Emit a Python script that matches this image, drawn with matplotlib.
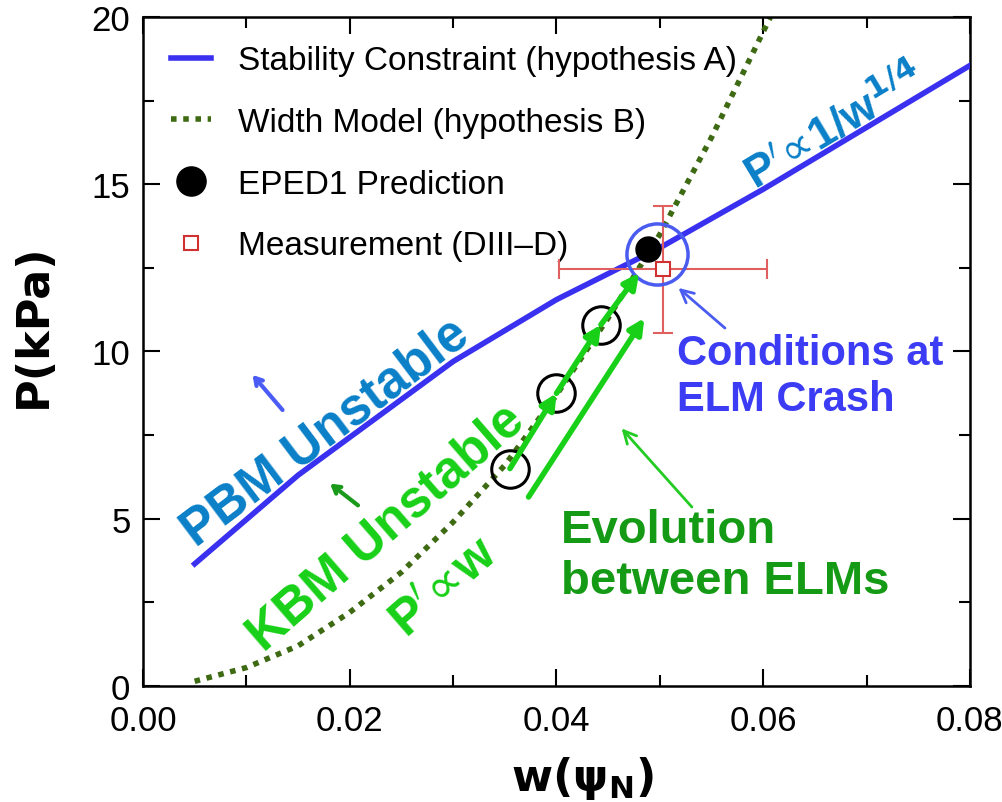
import numpy as np
import matplotlib
matplotlib.use("Agg")
import matplotlib.pyplot as plt
from matplotlib.lines import Line2D
from matplotlib.ticker import MultipleLocator

# =====================================================
# DATA
# =====================================================

# stability constraint (hypothesis A)
w_stab = [0.005, 0.015, 0.030, 0.040, 0.050, 0.060, 0.070, 0.080]
p_stab = [3.65, 6.3, 9.7, 11.55, 13.1, 14.85, 16.7, 18.55]

# width model (hypothesis B)
w_width = [0.005, 0.010, 0.015, 0.020, 0.025, 0.030, 0.035, 0.040,
           0.045, 0.050, 0.055, 0.0607]
p_width = [0.14, 0.55, 1.2, 2.2, 3.4, 4.9, 6.6, 8.7, 11.0, 13.5, 16.4, 20.0]

# EPED1 prediction
w_eped, p_eped = 0.0489, 13.05

# measurement (DIII-D) with error bars
w_meas, p_meas = 0.0503, 12.46
w_err, p_err = 0.0101, 1.9

# evolution between ELMs (open circles)
w_evol = [0.0355, 0.0400, 0.0443]
p_evol = [6.5, 8.75, 10.8]

labels = ["Stability Constraint (hypothesis A)", "Width Model (hypothesis B)",
          "EPED1 Prediction", "Measurement (DIII\u2013D)"]

# =====================================================
# STYLE
# =====================================================

sans = ["Liberation Sans", "DejaVu Sans"]
blue_line = "#3a30f0"
green_dot = "#3d6a12"
bright_green = "#18d018"
dark_green = "#149a14"
pbm_blue = "#0a80c8"
cond_blue = "#3c3cf5"
meas_red = "#d03030"

fig = plt.figure(figsize=(10.02, 8.03), dpi=100)
ax = fig.add_axes([0.1427, 0.1445, 0.8253, 0.8331])

# =====================================================
# CURVES
# =====================================================

ax.plot(w_stab, p_stab, color=blue_line, lw=4, zorder=3)
ax.plot(w_width, p_width, color=green_dot, lw=4, ls=(0, (1, 1.2)), zorder=2)
ax.plot(w_eped, p_eped, "o", color="black", ms=18, zorder=5)
ax.errorbar(w_meas, p_meas, xerr=w_err, yerr=p_err, fmt="s", mfc="white",
            mec=meas_red, ecolor="#e06060", ms=10, mew=1.5, elinewidth=1.5,
            capsize=7, capthick=1.5, zorder=6)

ax.plot(w_evol, p_evol, "o", mfc="none", mec="black", ms=27, mew=2.2, zorder=4)

# big blue circle around ELM crash point
ax.plot(0.0497, 12.9, "o", mfc="none", mec="#4a5cf0", ms=44, mew=2.5, zorder=7)

# =====================================================
# ARROWS
# =====================================================

arr = dict(arrowstyle="-|>,head_length=0.9,head_width=0.45", color=bright_green,
           lw=4, shrinkA=0, shrinkB=0)
pts = list(zip(w_evol, p_evol)) + [(0.0480, 12.35)]
for (x0, y0), (x1, y1) in zip(pts[:-1], pts[1:]):
    ax.annotate("", xy=(x1, y1), xytext=(x0, y0), arrowprops=arr, zorder=8)
ax.annotate("", xy=(0.0485, 11.0), xytext=(0.0373, 5.65), arrowprops=arr, zorder=8)

ax.annotate("", xy=(0.0463, 7.7), xytext=(0.0531, 5.35),
            arrowprops=dict(arrowstyle="->,head_length=0.9,head_width=0.45",
                            color="#22cc22", lw=2, shrinkA=0, shrinkB=0))
ax.annotate("", xy=(0.0518, 11.9), xytext=(0.0563, 10.7),
            arrowprops=dict(arrowstyle="->,head_length=0.9,head_width=0.45",
                            color="#4a5cf0", lw=2, shrinkA=0, shrinkB=0))
ax.annotate("", xy=(0.0106, 9.3), xytext=(0.0135, 8.25),
            arrowprops=dict(arrowstyle="->,head_length=0.5,head_width=0.3",
                            color="#4a5cf5", lw=3, shrinkA=0, shrinkB=0))
ax.annotate("", xy=(0.0181, 6.05), xytext=(0.0208, 5.4),
            arrowprops=dict(arrowstyle="->,head_length=0.5,head_width=0.3",
                            color="#1a9a1a", lw=3, shrinkA=0, shrinkB=0))

# =====================================================
# TEXT
# =====================================================

ax.text(0.0177, 7.6, "PBM Unstable", color=pbm_blue, fontsize=37,
        fontweight="bold", family=sans, rotation=37,
        ha="center", va="center", rotation_mode="anchor")
ax.text(0.0235, 4.75, "KBM Unstable", color=bright_green, fontsize=37,
        fontweight="bold", family=sans, rotation=41,
        ha="center", va="center", rotation_mode="anchor")
ax.text(0.0292, 2.95, r"P$^{\prime}\!\propto\!$w", color=bright_green, fontsize=36,
        fontweight="bold", family=sans, rotation=41,
        ha="center", va="center", rotation_mode="anchor")
ax.text(0.0670, 16.75, r"P$^{\prime}\!\propto\!$1/w$^{\mathbf{1/4}}$", color=pbm_blue,
        fontsize=32, fontweight="bold", family=sans, rotation=31,
        ha="center", va="center", rotation_mode="anchor")
ax.text(0.0517, 9.26, "Conditions at\nELM Crash", color=cond_blue, fontsize=30,
        fontweight="bold", family=sans, ha="left", va="center",
        linespacing=1.2)
ax.text(0.0404, 3.9, "Evolution\nbetween ELMs", color=dark_green, fontsize=34,
        fontweight="bold", family=sans, ha="left", va="center",
        linespacing=1.2)

# =====================================================
# AXES
# =====================================================

ax.set_xlim(0, 0.08)
ax.set_ylim(0, 20)
ax.xaxis.set_major_locator(MultipleLocator(0.02))
ax.xaxis.set_minor_locator(MultipleLocator(0.01))
ax.yaxis.set_major_locator(MultipleLocator(5))
ax.yaxis.set_minor_locator(MultipleLocator(2.5))
ax.xaxis.set_major_formatter(plt.FuncFormatter(lambda v, p: f"{v:.2f}"))
ax.tick_params(which="both", direction="in", top=True, right=True, width=1.5)
ax.tick_params(which="major", length=12, labelsize=25)
ax.tick_params(axis="x", which="major", pad=13)
ax.tick_params(axis="y", which="major", pad=9)
ax.tick_params(which="minor", length=8)
for lab in ax.get_xticklabels() + ax.get_yticklabels():
    lab.set_family(sans)
for s in ax.spines.values():
    s.set_linewidth(1.8)

fig.text(0.033, 0.594, "P(kPa)", rotation=90, fontsize=32, fontweight="bold",
         ha="center", va="center")
fig.text(0.581, 0.031, r"$\mathbf{w(\psi_N)}$", fontsize=32, ha="center",
         va="center")

# =====================================================
# LEGEND
# =====================================================

handles = [
    Line2D([], [], color=blue_line, lw=4),
    Line2D([], [], color=green_dot, lw=4, ls=(0, (1, 1.2))),
    Line2D([], [], ls="none", marker="o", color="black", ms=21),
    Line2D([], [], ls="none", marker="s", mfc="white", mec=meas_red, ms=10, mew=1.5),
]
ax.legend(handles, labels, loc="upper left", bbox_to_anchor=(0.0, 1.0),
          frameon=False, prop={"family": sans, "size": 24}, handlelength=1.2,
          handletextpad=0.8, labelspacing=0.92, borderaxespad=0.45)

fig.savefig("out.png", dpi=100)
